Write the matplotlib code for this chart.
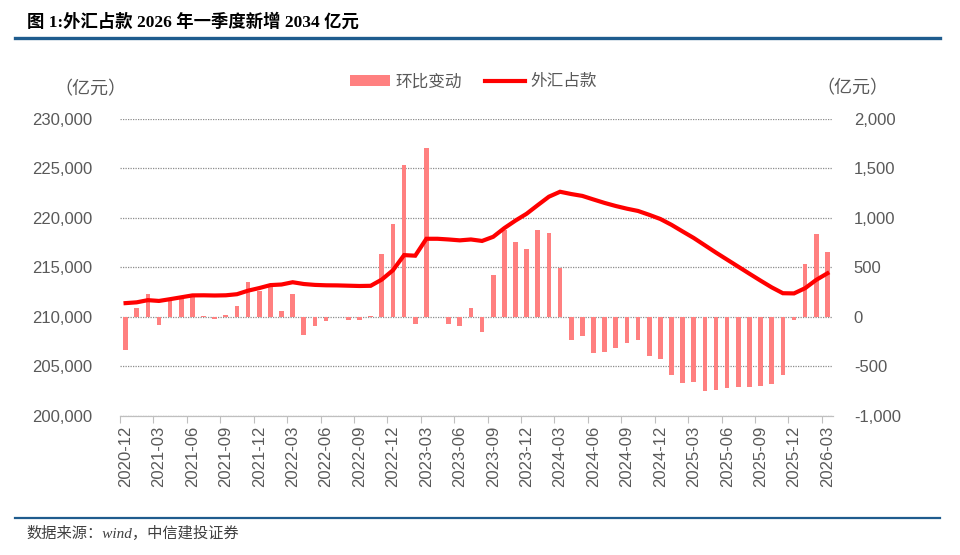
import numpy as np
import pandas as pd
import matplotlib
matplotlib.use('Agg')
import matplotlib.pyplot as plt
from matplotlib.patches import Patch
from matplotlib.lines import Line2D
from matplotlib.ticker import FuncFormatter, MultipleLocator

plt.rcParams['font.family'] = ['Liberation Sans', 'Noto Sans CJK SC']

# months 2020-12 .. 2026-03
months = pd.period_range('2020-12', '2026-03', freq='M').strftime('%Y-%m').tolist()

# 外汇占款 (亿元), left axis
fx_holdings = [211400, 211480, 211700, 211620, 211800, 211990, 212180, 212190,
               212170, 212190, 212300, 212660, 212920, 213220, 213280, 213510,
               213330, 213240, 213200, 213190, 213160, 213130, 213150, 213780,
               214720, 216250, 216190, 217900, 217900, 217830, 217740, 217830,
               217680, 218100, 218980, 219740, 220430, 221300, 222150, 222650,
               222420, 222230, 221870, 221520, 221210, 220940, 220710, 220320,
               219900, 219310, 218640, 217980, 217240, 216500, 215790, 215080,
               214370, 213670, 212990, 212400, 212380, 212910, 213750, 214410]

# 环比变动 (亿元), right axis
mom_change = [-330, 91, 232, -81, 158, 182, 202, 13, -20, 20, 108, 354, 259, 300,
              64, 232, -178, -94, -44, -5, -27, -34, 13, 636, 940, 1535, -67, 1710,
              0, -71, -88, 91, -148, 421, 882, 758, 687, 879, 848, 498, -229, -189,
              -364, -350, -316, -266, -232, -391, -424, -589, -667, -660, -744, -734,
              -714, -712, -707, -700, -677, -586, -27, 532, 842, 660]

bar_color = '#FF8080'
line_color = '#FF0000'
text_grey = '#595959'
blue = '#1F5C8E'

fig = plt.figure(figsize=(9.6, 5.55), dpi=100)
ax = fig.add_axes([0.125, 0.2505, 0.7427, 0.5351])
ax2 = ax.twinx()
ax.set_zorder(ax2.get_zorder() + 1)
ax.patch.set_visible(False)

x = np.arange(len(months))
ax2.bar(x, mom_change, width=0.42, color=bar_color, zorder=2)
ax.plot(x, fx_holdings, color=line_color, lw=3, solid_joinstyle='miter', zorder=3)

ax.set_xlim(-0.5, len(months) - 0.5)
ax.set_ylim(200000, 230000)
ax2.set_ylim(-1000, 2000)
ax.yaxis.set_major_locator(MultipleLocator(5000))
ax2.yaxis.set_major_locator(MultipleLocator(500))
fmt = FuncFormatter(lambda v, p: f'{v:,.0f}')
ax.yaxis.set_major_formatter(fmt)
ax2.yaxis.set_major_formatter(fmt)

ax2.yaxis.grid(True, color='#8c8c8c', lw=0.9, linestyle=(0, (1, 1)), zorder=0)
ax2.set_axisbelow(True)

for a in (ax, ax2):
    for s in ('left', 'right', 'top'):
        a.spines[s].set_visible(False)
    a.spines['bottom'].set_color('#BFBFBF')
ax.tick_params(axis='y', length=0, pad=20, labelsize=12, labelcolor=text_grey)
ax2.tick_params(axis='y', length=0, pad=15, labelsize=12, labelcolor=text_grey)

# x ticks: marks at category boundaries, labels at category centres
ax.set_xticks(np.arange(0, len(months), 3) - 0.5)
ax.set_xticklabels([])
ax.tick_params(axis='x', which='major', length=5, color='#BFBFBF')
ax.set_xticks(np.arange(0, len(months), 3), minor=True)
ax.set_xticklabels(months[::3], minor=True, rotation=90)
ax.tick_params(axis='x', which='minor', length=0, pad=7, labelsize=12, labelcolor=text_grey)
ax2.tick_params(axis='x', length=0)

# unit labels
fig.text(0.094, 0.839, '（亿元）', ha='center', va='center', fontsize=13, color=text_grey)
fig.text(0.888, 0.841, '（亿元）', ha='center', va='center', fontsize=13, color=text_grey)

# legend
handles = [Patch(facecolor=bar_color, edgecolor='none'),
           Line2D([0], [0], color=line_color, lw=3)]
fig.legend(handles, ['环比变动', '外汇占款'], loc='center', bbox_to_anchor=(0.493, 0.853),
           ncol=2, frameon=False, fontsize=12, labelcolor=text_grey,
           handlelength=2.4, handleheight=0.6, handletextpad=0.3, columnspacing=1.4)

# title, rules and source
fig.text(0.028, 0.960, '图 1:外汇占款 2026 年一季度新增 2034 亿元', ha='left', va='center',
         fontsize=12.5, fontweight='bold', color='black',
         family=['Liberation Serif', 'Noto Sans CJK SC'])
fig.add_artist(Line2D([0.016, 0.979], [0.9315, 0.9315], color=blue, lw=2.4))
fig.add_artist(Line2D([0.016, 0.979], [0.0667, 0.0667], color=blue, lw=1.6))
fig.text(0.028, 0.039, '数据来源：wind，中信建投证券', ha='left', va='center',
         fontsize=11, style='italic', color='#404040',
         family=['Liberation Serif', 'Noto Sans CJK SC'])

fig.savefig('out.png', dpi=100)
